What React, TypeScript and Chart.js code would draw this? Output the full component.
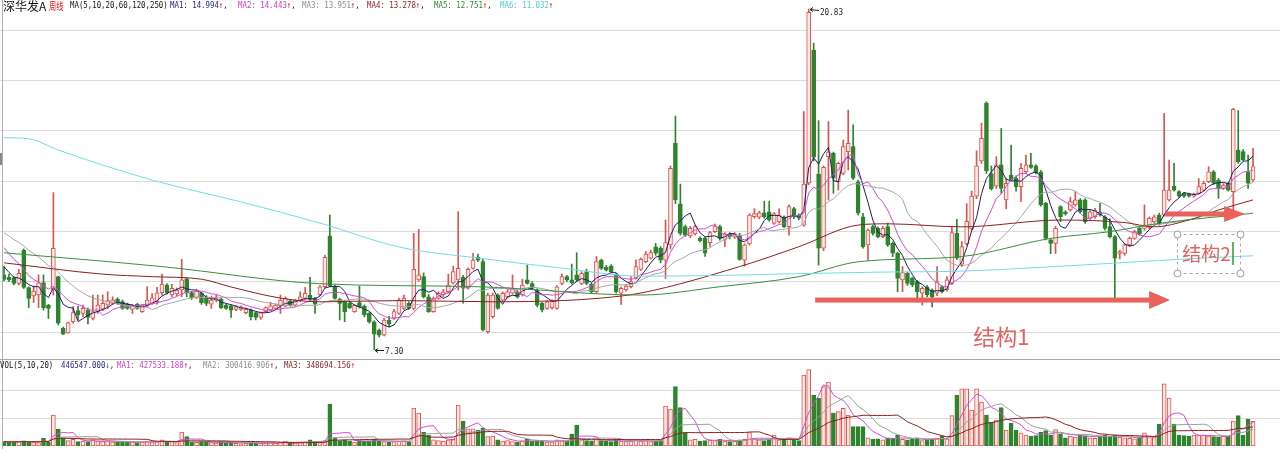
import React, { useEffect, useRef } from "react";
import { Chart, registerables } from "chart.js";

Chart.register(...registerables);

// ---------------- data (weekly candles) ----------------
const openP = [
  10.27,10.17,10.16,9.93,11.26,9.77,9.44,9.47,9.97,9.07,
  9.67,10.20,8.15,7.97,8.41,8.85,8.74,8.87,8.54,8.81,
  8.90,9.07,9.14,9.31,9.21,9.11,8.90,9.10,8.81,9.03,
  9.14,9.21,9.56,9.87,9.47,9.51,9.67,10.11,9.57,9.38,
  9.54,9.40,9.11,9.27,9.31,9.07,9.04,8.90,8.90,8.77,
  8.88,8.77,8.58,8.81,8.88,8.94,9.04,9.04,9.24,9.07,
  9.24,9.34,9.47,9.34,9.47,9.80,11.82,9.83,9.30,9.21,
  9.14,8.81,9.17,9.03,8.74,8.41,8.08,7.88,8.48,8.54,
  8.74,8.94,9.14,8.94,10.07,10.20,9.40,8.81,9.34,9.47,
  9.60,9.95,10.07,10.17,9.74,10.53,10.97,10.80,8.01,8.61,
  9.47,9.27,9.40,9.54,9.60,9.47,10.07,9.93,9.67,9.14,
  8.94,8.97,8.94,9.93,10.20,10.07,10.27,9.93,10.40,9.90,
  9.60,10.86,10.57,10.62,10.27,9.54,9.67,9.80,10.13,10.49,
  10.80,10.93,11.39,11.33,10.86,11.46,15.50,13.09,12.19,11.82,
  11.90,11.72,11.72,11.55,11.99,12.19,11.68,11.90,11.77,11.85,
  10.86,11.50,12.58,12.56,12.74,12.78,12.32,12.38,12.58,12.19,
  12.91,12.65,12.25,13.92,19.20,14.28,11.33,14.97,15.10,13.97,
  14.30,15.17,15.37,13.97,12.58,11.46,12.19,12.12,11.79,12.19,
  11.52,11.13,10.07,10.33,10.13,10.00,9.54,9.80,9.67,9.54,
  9.80,9.67,9.93,11.92,10.70,11.50,12.10,13.40,14.80,17.10,
  14.30,13.80,14.64,13.25,14.24,14.11,13.78,14.37,14.64,14.60,
  14.37,13.11,11.66,11.52,12.98,12.78,12.85,13.05,13.25,13.25,
  12.52,12.58,12.78,12.58,12.19,11.79,11.12,11.12,11.46,11.72,
  12.12,12.12,12.16,12.38,12.65,12.65,13.25,13.80,13.58,13.51,
  13.48,13.40,13.51,13.64,13.97,14.37,14.04,13.71,13.91,13.58,
  15.23,15.17,14.37,14.04,
];
const highP = [
  10.62,10.30,10.20,10.49,11.30,9.80,9.83,10.27,10.27,9.10,
  13.54,10.22,8.20,8.40,9.01,9.03,9.07,8.95,9.47,9.47,
  9.47,9.60,9.40,9.36,9.27,9.15,9.10,9.14,9.10,9.80,
  9.53,9.78,10.30,9.93,9.90,9.75,10.89,10.15,9.62,9.70,
  9.58,9.45,9.43,9.47,9.35,9.10,9.08,9.05,9.04,8.95,
  8.92,8.80,8.80,9.00,9.18,9.12,9.47,9.40,9.30,9.30,
  9.60,9.78,10.17,9.38,9.85,11.05,12.65,9.86,9.35,9.25,
  9.18,9.10,9.83,9.08,8.78,8.45,8.12,8.55,8.62,8.90,
  9.35,9.47,9.20,11.92,12.08,10.35,9.50,9.40,9.60,9.70,
  10.30,10.62,12.78,10.25,10.55,11.13,11.10,10.90,9.55,9.55,
  9.52,9.60,9.68,10.27,9.65,10.10,10.66,10.00,9.72,9.18,
  9.25,9.28,9.85,10.30,10.25,10.70,11.15,10.40,10.50,9.95,
  11.00,10.90,10.65,10.68,10.32,9.80,9.90,10.20,10.87,10.95,
  11.20,11.25,11.52,11.40,12.45,14.60,16.58,13.88,12.25,12.20,
  12.25,11.78,11.76,12.00,12.29,12.25,11.95,11.95,11.95,11.92,
  11.50,12.70,12.90,12.80,13.20,13.20,12.75,12.90,12.62,13.05,
  12.95,12.70,16.76,20.83,19.48,16.40,14.60,16.36,15.15,14.75,
  15.63,16.82,16.23,14.04,12.72,12.10,12.25,12.18,12.20,12.33,
  11.58,11.18,10.60,10.38,10.18,10.05,9.80,9.85,9.72,10.60,
  9.85,10.20,12.19,12.48,11.60,13.10,13.60,15.20,16.30,17.15,
  14.60,14.97,16.09,14.10,15.43,14.20,14.70,15.03,15.10,14.65,
  14.42,13.15,11.70,12.20,13.02,12.82,13.35,13.58,13.30,13.30,
  12.85,12.92,13.11,12.63,12.50,11.84,11.25,11.50,11.78,12.05,
  12.18,13.05,12.58,12.65,12.72,16.69,14.83,14.70,13.62,13.55,
  13.52,13.52,14.10,14.00,14.57,14.42,14.10,13.90,13.95,16.89,
  16.80,15.25,15.03,15.30,
];
const lowP = [
  10.03,10.00,9.87,9.87,9.73,8.97,9.17,8.97,8.87,8.54,
  9.47,8.28,7.90,7.95,8.35,8.48,8.61,8.32,8.48,8.74,
  8.85,8.94,9.10,9.10,8.90,8.90,8.74,8.90,8.78,8.98,
  9.10,9.11,9.47,9.50,9.40,9.45,9.40,9.40,9.30,9.33,
  9.10,9.05,8.94,9.20,8.93,8.90,8.58,8.85,8.86,8.72,
  8.48,8.48,8.50,8.78,8.85,8.90,8.74,9.00,9.02,9.02,
  9.20,9.30,9.25,8.74,9.45,9.75,9.80,9.30,8.48,8.41,
  8.93,8.78,8.95,8.60,8.35,7.30,7.80,7.85,8.20,8.50,
  8.70,8.90,8.90,8.88,10.02,9.35,8.78,8.78,9.30,9.40,
  9.55,9.90,9.67,9.15,9.70,10.50,10.80,8.04,7.95,8.55,
  8.90,9.20,9.35,9.50,9.35,9.43,9.90,9.70,9.00,8.80,
  8.90,8.92,8.90,9.88,10.00,9.90,10.00,9.88,9.88,9.55,
  9.55,10.48,10.42,10.35,9.55,9.10,9.62,9.75,10.10,10.45,
  10.75,10.90,11.05,10.75,10.13,11.30,13.10,11.85,11.80,11.75,
  11.85,11.58,11.00,11.40,11.95,11.65,11.40,11.70,11.72,10.85,
  10.62,11.45,12.52,12.50,12.52,12.40,12.28,12.33,12.15,11.85,
  12.50,12.45,12.20,13.85,14.80,10.66,11.23,13.25,13.51,13.64,
  14.25,14.44,14.05,12.65,11.33,10.86,11.85,11.74,11.74,11.40,
  11.00,9.60,9.60,9.85,9.80,9.20,9.07,9.40,9.00,9.45,
  9.55,9.62,9.88,10.88,10.60,11.45,12.05,13.30,14.70,14.30,
  13.64,13.70,13.51,12.90,14.00,13.60,13.18,14.30,14.50,14.28,
  13.00,11.66,11.12,11.12,12.38,12.64,12.80,13.00,12.72,12.32,
  12.48,12.52,12.60,12.05,11.74,9.21,10.90,11.05,11.40,11.68,
  11.85,12.05,12.10,12.33,12.25,12.60,13.20,13.60,13.35,13.35,
  13.36,13.36,13.48,13.60,13.93,13.86,13.31,13.66,13.60,12.85,
  14.70,14.80,13.71,13.98,
];
const closeP = [
  10.09,10.07,9.93,10.33,9.77,9.34,9.63,9.96,8.97,8.94,
  11.33,8.35,7.92,8.37,8.77,8.68,8.94,8.58,8.81,9.07,
  9.14,9.25,9.27,9.14,8.94,8.94,9.07,8.94,9.07,9.27,
  9.36,9.56,9.91,9.56,9.74,9.67,10.07,9.55,9.38,9.63,
  9.17,9.14,9.27,9.37,8.97,8.94,8.87,9.01,9.00,8.90,
  8.61,8.58,8.77,8.97,9.04,9.07,9.27,9.34,9.07,9.27,
  9.40,9.54,9.30,9.11,9.80,10.97,9.83,9.34,9.14,8.81,
  8.97,9.07,9.01,8.68,8.41,7.92,7.88,8.48,8.32,8.81,
  9.27,9.34,8.94,10.49,10.27,9.40,8.81,9.34,9.54,9.60,
  9.87,10.40,10.53,9.74,10.49,10.86,10.86,8.08,9.47,9.47,
  8.94,9.54,9.60,9.74,9.40,9.87,9.93,9.74,9.07,8.88,
  9.20,9.22,9.80,10.20,10.07,9.95,10.07,10.33,9.93,9.60,
  10.80,10.53,10.46,10.40,9.60,9.74,9.83,10.00,10.60,10.89,
  11.10,11.16,11.13,10.86,11.55,14.50,13.25,11.92,11.85,12.12,
  12.19,11.63,11.13,11.95,12.21,11.72,11.90,11.79,11.90,10.89,
  11.46,12.65,12.71,12.74,12.58,12.45,12.71,12.65,12.19,12.98,
  12.58,12.52,13.88,20.70,14.95,11.33,14.54,15.16,14.11,14.70,
  15.37,15.50,14.11,12.72,11.39,12.05,11.92,11.79,12.12,11.46,
  11.13,10.13,10.36,9.93,9.87,9.60,9.74,9.47,9.40,10.00,
  9.60,10.07,11.95,10.93,11.40,12.40,13.40,14.60,15.70,14.40,
  13.70,14.64,13.71,13.91,14.04,13.78,14.50,14.64,14.54,14.33,
  13.05,11.72,11.52,12.12,12.58,12.69,13.18,13.25,12.78,12.38,
  12.78,12.85,12.65,12.12,11.79,10.93,11.20,11.46,11.72,11.99,
  11.89,12.25,12.52,12.58,12.32,13.64,13.64,13.64,13.40,13.40,
  13.40,13.48,13.78,13.91,14.37,13.91,13.71,13.84,13.64,16.85,
  14.77,14.84,13.91,14.57,
];
// weekly volume, in thousands of shares
const volumeK = [
  80,70,75,85,95,75,70,60,145,70,
  564,309,145,100,120,80,90,80,110,90,
  85,95,70,65,80,70,75,60,70,90,
  75,85,110,70,80,60,255,170,70,65,
  80,70,60,55,75,60,70,50,45,50,
  65,60,50,55,60,50,75,90,60,55,
  60,75,110,80,60,100,764,145,100,110,
  90,70,100,85,95,120,90,80,70,80,
  90,95,80,690,600,250,200,110,100,90,
  110,120,745,455,310,310,290,327,170,180,
  110,90,100,80,70,95,120,90,100,85,
  70,75,110,100,90,218,380,110,100,90,
  150,100,85,80,110,90,80,90,110,90,
  100,80,85,100,727,673,1080,697,242,110,
  120,90,100,110,100,120,90,80,85,110,
  120,242,130,110,100,120,200,110,120,150,
  110,100,1290,1390,927,873,1080,1160,600,624,
  685,560,351,351,351,150,120,130,110,150,
  140,200,120,110,130,150,100,110,120,140,
  180,130,551,927,1040,1040,655,1040,800,564,
  436,473,697,290,418,290,240,200,180,190,
  250,280,200,300,220,150,180,160,200,190,
  150,140,170,200,180,200,160,150,140,130,
  160,240,170,160,400,1130,873,400,200,190,
  180,200,200,197,180,170,160,176,180,455,
  551,200,490,446.547,
];
// closes before the first visible week (feed the short moving averages)
const priorCloses = [12.8,12.7,12.6,12.7,12.5,12.4,12.6,12.5,12.4,12.3,12.4,12.2,12.0,12.0,11.9,11.2,10.9,10.5,10.3];

// long moving averages (week index, value)
const ma60Idx = [0,20,30,40,46,56,64,80,100,113,121,129,149,161,173,179,194,214,227,233,240,246,253];
const ma60Val = [10.75,10.3,10.2,10.1,9.79,9.35,9.2,9.25,9.2,9.25,9.35,9.55,10.6,11.39,12.25,12.3,12.18,12.45,12.35,12.18,12.45,12.85,13.25];
const ma120Idx = [0,32,64,96,129,145,161,173,194,212,224,234,253];
const ma120Val = [11.15,10.6,9.92,9.8,9.47,9.8,10.2,10.79,11.0,11.72,11.99,12.32,12.72];
const ma250Idx = [0,5,11,30,48,64,80,96,113,129,145,161,177,194,210,226,242,253];
const ma250Val = [15.72,15.68,15.23,14.04,13.17,12.33,11.38,10.94,10.54,10.22,10.25,10.32,10.38,10.42,10.57,10.75,10.93,11.03];

const priceGridTicks = [8, 10, 12, 14, 16, 18, 20];
const volGridTicks = [500, 1000];

const priceHeaderTexts = ["深华发A", "周线", "MA(5,10,20,60,120,250)", "MA1: 14.994", "MA2: 14.443", "MA3: 13.951", "MA4: 13.278", "MA5: 12.751", "MA6: 11.032"];
const volHeaderTexts = ["VOL(5,10,20)", "446547.000", "MA1: 427533.188", "MA2: 300416.906", "MA3: 348694.156"];
const annotationTexts = ["结构1", "结构2"];

// ---------------- layout / style ----------------
const W = 1280;
const PRICE_H = 359;
const VOL_H = 90;
const X_MIN = -0.81;
const X_MAX = 258.46;
const P_MIN = 6.929;
const P_MAX = 21.192;
const V_MAX = 1581.8;

const UP = "#e0524d";
const UP_FILL = "#fde9e7";
const DOWN = "#2d842d";
const GRID = "#dcdcdc";
const ARROW = "#e8615b";
const NOTE = "#e2625e";
const C_MA1 = "#1c1c6e";
const C_MA2 = "#d24ed2";
const C_MA3 = "#a6a6a6";
const C_MA4 = "#8b2020";
const C_MA5 = "#3a8f3a";
const C_MA6 = "#74dbe6";
const MONO = '"DejaVu Sans Mono", monospace';
const CJK = '"Noto Sans CJK SC", sans-serif';

// annotation placement in data space (week index, price)
const arrow1 = { from: 164.3, to: 236.2, price: 9.27 };
const arrow2 = { from: 235.2, to: 251.4, price: 12.69 };
const note1 = { x: 202.0, price: 7.8 };
const box2 = { x0: 237.6, x1: 250.4, p0: 11.895, p1: 10.346, tx: 243.6, tp: 11.1, cx: 248.9, cp0: 11.58, cp1: 10.66 };

const N = closeP.length;
const idx = Array.from({ length: N }, (_, i) => i);
const isUp = idx.map((i) => closeP[i] >= openP[i]);

function movingAvg(values: number[], n: number, prior: number[] = []) {
  const all = [...prior, ...values];
  const off = prior.length;
  return values.map((_, i) => {
    const end = i + off;
    const start = Math.max(0, end - n + 1);
    let s = 0;
    for (let k = start; k <= end; k++) s += all[k];
    return s / (end - start + 1);
  });
}

function lineDs(data: { x: number; y: number }[], color: string, smooth = false) {
  return {
    type: "line" as const,
    data,
    borderColor: color,
    borderWidth: 1,
    pointRadius: 0,
    fill: false,
    tension: smooth ? 0.35 : 0,
    cubicInterpolationMode: smooth ? ("monotone" as const) : ("default" as const),
    order: 0,
  };
}

function drawArrow(ctx: CanvasRenderingContext2D, x0: number, x1: number, yc: number, thick: number, headLen: number, headHalf: number) {
  ctx.fillStyle = ARROW;
  ctx.fillRect(x0, yc - thick / 2, x1 - headLen - x0 + 1, thick);
  ctx.beginPath();
  ctx.moveTo(x1 - headLen, yc - headHalf);
  ctx.lineTo(x1, yc);
  ctx.lineTo(x1 - headLen, yc + headHalf);
  ctx.closePath();
  ctx.fill();
}

// draws coloured text runs, squeezed horizontally by sx
function drawParts(ctx: CanvasRenderingContext2D, x: number, y: number, font: string, parts: [string, string][], sx = 1) {
  ctx.save();
  ctx.translate(x, y);
  ctx.scale(sx, 1);
  ctx.font = font;
  let cx = 0;
  for (const [t, c] of parts) {
    ctx.fillStyle = c;
    ctx.fillText(t, cx, 0);
    cx += ctx.measureText(t).width;
  }
  ctx.restore();
}

const pricePlugin = {
  id: "priceDecor",
  afterDraw(chart: any) {
    const ctx: CanvasRenderingContext2D = chart.ctx;
    const xs = chart.scales.x;
    const ys = chart.scales.y;
    ctx.save();
    // frame
    ctx.fillStyle = "#b0b0b0";
    ctx.fillRect(2, 0, 1, PRICE_H);
    ctx.fillStyle = "#8a8a8a";
    ctx.fillRect(0, 153, 2, 12);

    // highest / lowest markers
    const hiV = Math.max(...highP);
    const loV = Math.min(...lowP);
    const hiI = highP.indexOf(hiV);
    const loI = lowP.indexOf(loV);
    ctx.strokeStyle = "#222";
    ctx.lineWidth = 1;
    ctx.textBaseline = "middle";
    ctx.textAlign = "left";
    {
      const x = Math.round(xs.getPixelForValue(hiI)) + 1;
      const y = Math.round(ys.getPixelForValue(hiV)) + 0.5;
      ctx.beginPath();
      ctx.moveTo(x, y); ctx.lineTo(x + 9, y + 1);
      ctx.moveTo(x, y); ctx.lineTo(x + 3, y - 2);
      ctx.moveTo(x, y); ctx.lineTo(x + 3, y + 2);
      ctx.stroke();
      drawParts(ctx, x + 10, y + 3, `9px ${MONO}`, [[hiV.toFixed(2), "#222"]], 0.85);
    }
    {
      const x = Math.round(xs.getPixelForValue(loI)) + 1;
      const y = Math.round(ys.getPixelForValue(loV)) + 0.5;
      ctx.beginPath();
      ctx.moveTo(x, y); ctx.lineTo(x + 9, y);
      ctx.moveTo(x, y); ctx.lineTo(x + 3, y - 2);
      ctx.moveTo(x, y); ctx.lineTo(x + 3, y + 2);
      ctx.stroke();
      drawParts(ctx, x + 10, y + 1, `9px ${MONO}`, [[loV.toFixed(2), "#222"]], 0.85);
    }

    // hand-drawn structure marks
    drawArrow(ctx, xs.getPixelForValue(arrow1.from), xs.getPixelForValue(arrow1.to), ys.getPixelForValue(arrow1.price), 5, 21, 9);
    drawArrow(ctx, xs.getPixelForValue(arrow2.from), xs.getPixelForValue(arrow2.to), ys.getPixelForValue(arrow2.price), 5, 21, 8);

    ctx.textAlign = "center";
    ctx.fillStyle = NOTE;
    ctx.font = `22px ${CJK}`;
    ctx.fillText(annotationTexts[0], xs.getPixelForValue(note1.x), ys.getPixelForValue(note1.price));

    const bx0 = Math.round(xs.getPixelForValue(box2.x0)) + 0.5;
    const bx1 = Math.round(xs.getPixelForValue(box2.x1)) + 0.5;
    const by0 = Math.round(ys.getPixelForValue(box2.p0)) + 0.5;
    const by1 = Math.round(ys.getPixelForValue(box2.p1)) + 0.5;
    ctx.setLineDash([3, 3]);
    ctx.strokeStyle = "#a8a8a8";
    ctx.strokeRect(bx0, by0, bx1 - bx0, by1 - by0);
    ctx.setLineDash([]);
    ctx.font = `19px ${CJK}`;
    ctx.fillStyle = NOTE;
    ctx.fillText(annotationTexts[1], xs.getPixelForValue(box2.tx), ys.getPixelForValue(box2.tp));
    ctx.strokeStyle = "#2e9a2e";
    ctx.lineWidth = 1.5;
    ctx.beginPath();
    const cx = Math.round(xs.getPixelForValue(box2.cx));
    ctx.moveTo(cx, ys.getPixelForValue(box2.cp0));
    ctx.lineTo(cx, ys.getPixelForValue(box2.cp1));
    ctx.stroke();
    ctx.lineWidth = 1;
    ctx.strokeStyle = "#9a9a9a";
    ctx.fillStyle = "#fff";
    for (const [hx, hy] of [[bx0, by0], [bx1, by0], [bx0, by1], [bx1, by1]]) {
      ctx.beginPath();
      ctx.arc(hx, hy, 3.5, 0, Math.PI * 2);
      ctx.fill();
      ctx.stroke();
    }

    // header
    ctx.textAlign = "left";
    ctx.textBaseline = "middle";
    const y = 6;
    drawParts(ctx, -5, y, `10px ${MONO}`, [["★", "#7ccfee"]]);
    drawParts(ctx, 3, y, `12px ${CJK}`, [[priceHeaderTexts[0], "#111"]]);
    drawParts(ctx, 49, y, `10px ${CJK}`, [[priceHeaderTexts[1], "#e01010"]], 0.72);
    const f = `9px ${MONO}`;
    const sq = 0.82;
    drawParts(ctx, 70, y, f, [[priceHeaderTexts[2], "#111"]], sq);
    const cols = ["#25258a", "#c940c9", "#8e8e8e", "#8b1c1c", "#2f8a2f", "#4ccbdc"];
    const xsHdr = [170, 238, 302, 367, 434, 500];
    for (let k = 0; k < 6; k++) {
      const parts: [string, string][] = [[priceHeaderTexts[3 + k], cols[k]], ["↑", "#e01010"]];
      if (k < 5) parts.push([",", "#111"]);
      drawParts(ctx, xsHdr[k], y, f, parts, sq);
    }
    ctx.restore();
  },
};

const volPlugin = {
  id: "volDecor",
  afterDraw(chart: any) {
    const ctx: CanvasRenderingContext2D = chart.ctx;
    ctx.save();
    ctx.fillStyle = "#a8a8a8";
    ctx.fillRect(0, 0, W, 1);
    ctx.fillStyle = "#b0b0b0";
    ctx.fillRect(2, 0, 1, VOL_H);
    ctx.textAlign = "left";
    ctx.textBaseline = "middle";
    const f = `9px ${MONO}`;
    const sq = 0.82;
    const y = 6.5;
    drawParts(ctx, 0, y, f, [[volHeaderTexts[0], "#111"]], sq);
    drawParts(ctx, 61, y, f, [[volHeaderTexts[1], "#25258a"], ["↓", "#2d842d"], [",", "#111"]], sq);
    drawParts(ctx, 117, y, f, [[volHeaderTexts[2], "#c940c9"], ["↑", "#e01010"], [",", "#111"]], sq);
    drawParts(ctx, 203, y, f, [[volHeaderTexts[3], "#8e8e8e"], ["↑", "#e01010"], [",", "#111"]], sq);
    drawParts(ctx, 284, y, f, [[volHeaderTexts[4], "#8b1c1c"], ["↑", "#e01010"]], sq);
    ctx.restore();
  },
};

function priceConfig(): any {
  const ma5 = movingAvg(closeP, 5, priorCloses);
  const ma10 = movingAvg(closeP, 10, priorCloses);
  const ma20 = movingAvg(closeP, 20, priorCloses);
  const pts = (arr: number[]) => idx.map((i) => ({ x: i, y: arr[i] }));
  const sampled = (xi: number[], v: number[]) => xi.map((x, k) => ({ x, y: v[k] }));
  return {
    type: "bar",
    data: {
      datasets: [
        lineDs(sampled(ma250Idx, ma250Val), C_MA6, true),
        lineDs(sampled(ma120Idx, ma120Val), C_MA5, true),
        lineDs(sampled(ma60Idx, ma60Val), C_MA4, true),
        lineDs(pts(ma20), C_MA3),
        lineDs(pts(ma10), C_MA2),
        lineDs(pts(ma5), C_MA1),
        {
          type: "bar",
          data: idx.map((i) => ({ x: i, y: [lowP[i], highP[i]] })),
          backgroundColor: idx.map((i) => (isUp[i] ? UP : DOWN)),
          barThickness: 1,
          grouped: false,
          order: 2,
        },
        {
          type: "bar",
          data: idx.map((i) => {
            const lo = Math.min(openP[i], closeP[i]);
            const hi = Math.max(openP[i], closeP[i]);
            return { x: i, y: [lo, Math.max(hi, lo + 0.05)] };
          }),
          backgroundColor: idx.map((i) => (isUp[i] ? UP_FILL : DOWN)),
          borderColor: idx.map((i) => (isUp[i] ? UP : DOWN)),
          borderWidth: 1,
          borderSkipped: false,
          barThickness: 4,
          grouped: false,
          order: 1,
        },
      ],
    },
    options: {
      animation: false,
      responsive: false,
      devicePixelRatio: 1,
      events: [],
      layout: { padding: 0 },
      plugins: { legend: { display: false }, tooltip: { enabled: false }, title: { display: false } },
      scales: {
        x: { type: "linear", min: X_MIN, max: X_MAX, display: false, offset: false },
        y: {
          type: "linear",
          min: P_MIN,
          max: P_MAX,
          display: true,
          ticks: { display: false },
          grid: { color: GRID, drawTicks: false, lineWidth: 1 },
          border: { display: false },
          afterBuildTicks: (axis: any) => {
            axis.ticks = priceGridTicks.map((v) => ({ value: v }));
          },
        },
      },
    },
    plugins: [pricePlugin],
  };
}

function volConfig(): any {
  const v5 = movingAvg(volumeK, 5);
  const v10 = movingAvg(volumeK, 10);
  const v20 = movingAvg(volumeK, 20);
  const pts = (arr: number[]) => idx.map((i) => ({ x: i, y: arr[i] }));
  return {
    type: "bar",
    data: {
      datasets: [
        lineDs(pts(v20), C_MA4),
        lineDs(pts(v10), "#9c9c9c"),
        lineDs(pts(v5), C_MA2),
        {
          type: "bar",
          data: idx.map((i) => ({ x: i, y: volumeK[i] })),
          backgroundColor: idx.map((i) => (isUp[i] ? UP_FILL : DOWN)),
          borderColor: idx.map((i) => (isUp[i] ? UP : DOWN)),
          borderWidth: 1,
          borderSkipped: false,
          barThickness: 4,
          grouped: false,
          order: 1,
        },
      ],
    },
    options: {
      animation: false,
      responsive: false,
      devicePixelRatio: 1,
      events: [],
      layout: { padding: { top: 0, bottom: 3, left: 0, right: 0 } },
      plugins: { legend: { display: false }, tooltip: { enabled: false }, title: { display: false } },
      scales: {
        x: { type: "linear", min: X_MIN, max: X_MAX, display: false, offset: false },
        y: {
          type: "linear",
          min: 0,
          max: V_MAX,
          display: true,
          ticks: { display: false },
          grid: { color: GRID, drawTicks: false, lineWidth: 1 },
          border: { display: false },
          afterBuildTicks: (axis: any) => {
            axis.ticks = volGridTicks.map((v) => ({ value: v }));
          },
        },
      },
    },
    plugins: [volPlugin],
  };
}

export default function App() {
  const pRef = useRef<HTMLCanvasElement>(null);
  const vRef = useRef<HTMLCanvasElement>(null);
  useEffect(() => {
    const pc = new Chart(pRef.current as HTMLCanvasElement, priceConfig());
    const vc = new Chart(vRef.current as HTMLCanvasElement, volConfig());
    return () => {
      pc.destroy();
      vc.destroy();
    };
  }, []);
  return (
    <div style={{ position: "absolute", left: 0, top: 0, width: W, height: 449, background: "#fff", overflow: "hidden" }}>
      <canvas ref={pRef} width={W} height={PRICE_H} style={{ position: "absolute", left: 0, top: 0, width: W, height: PRICE_H }} />
      <canvas ref={vRef} width={W} height={VOL_H} style={{ position: "absolute", left: 0, top: PRICE_H, width: W, height: VOL_H }} />
    </div>
  );
}
